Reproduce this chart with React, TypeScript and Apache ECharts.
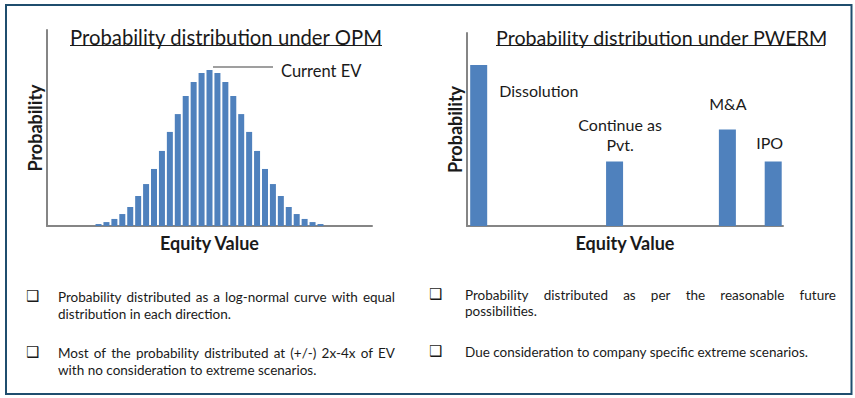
import React, { useEffect, useRef } from "react";
import * as echarts from "echarts";

// ---------- data ----------
// OPM: relative probability for each equity-value bin (log-normal shaped)
const opmProbability = [
  0.1, 0.2, 0.36, 0.61, 0.97, 1.53, 2.14, 2.91, 3.83, 4.8, 5.71, 6.63, 7.35, 7.81, 7.96,
  7.81, 7.35, 6.63, 5.71, 4.8, 3.83, 2.91, 2.14, 1.53, 0.97, 0.61, 0.36, 0.2, 0.1,
];
const opmEmptyBinsBefore = 6;
const opmEmptyBinsAfter = 6;
const opmAxisMax = 10;

// PWERM: discrete scenarios
const pwermScenarios = ["Dissolution", "Continue as\nPvt.", "M&A", "IPO"];
const pwermEquityValue = [3.7, 46.7, 82.4, 96.9];
const pwermProbability = [41.7, 16.7, 25, 16.7];
const pwermAxisMax = 50;

// texts
const titles = ["Probability distribution under OPM", "Probability distribution under PWERM"];
const axisNames = { x: "Equity Value", y: "Probability" };
const currentEvLabel = "Current EV";
const bulletsLeft = [
  ["Probability distributed as a log-normal curve with equal", "distribution in each direction."],
  ["Most of the probability distributed at (+/-) 2x-4x of EV", "with no consideration to extreme scenarios."],
];
const bulletsRight = [
  ["Probability distributed as per the reasonable future", "possibilities."],
  ["Due consideration to company specific extreme scenarios."],
];

const FONT = "Lato, 'Open Sans', sans-serif";
const BAR = "#4f81bd";
const AXIS = "#858585";
const TEXT = "#1a1a1a";

function measure(text: string, size: number): number {
  const c = document.createElement("canvas").getContext("2d")!;
  c.font = `${size}px Lato`;
  return c.measureText(text).width;
}

function lineElements(text: string, x: number, y: number, size: number, justifyTo?: number): any[] {
  if (!justifyTo) {
    return [{ type: "text", x, y, style: { text, fill: TEXT, font: `${size}px ${FONT}`, verticalAlign: "middle" } }];
  }
  const words = text.split(" ");
  const widths = words.map((w) => measure(w, size));
  const total = widths.reduce((a, b) => a + b, 0);
  const gap = (justifyTo - total) / (words.length - 1);
  const out: any[] = [];
  let cx = x;
  words.forEach((w, i) => {
    out.push({ type: "text", x: cx, y, style: { text: w, fill: TEXT, font: `${size}px ${FONT}`, verticalAlign: "middle" } });
    cx += widths[i] + gap;
  });
  return out;
}

export default function App() {
  const ref = useRef<HTMLDivElement>(null);
  useEffect(() => {
    document.body.style.margin = "0";
    const chart = echarts.init(ref.current!, null, { renderer: "svg" });

    const opmData = [
      ...new Array(opmEmptyBinsBefore).fill(null),
      ...opmProbability,
      ...new Array(opmEmptyBinsAfter).fill(null),
    ];
    const opmCats = opmData.map((_, i) => String(i));

    const bulletSize = 13.5;
    const graphics: any[] = [];
    // border
    graphics.push({
      type: "rect",
      shape: { x: 6, y: 5, width: 845.5, height: 389 },
      style: { fill: "none", stroke: "#1f4e6e", lineWidth: 2 },
      silent: true,
    });
    // titles with underline
    graphics.push({ type: "text", x: 70, y: 37, style: { text: titles[0], fill: TEXT, font: `20.3px ${FONT}`, verticalAlign: "middle" } });
    graphics.push({ type: "line", shape: { x1: 70, y1: 45.5, x2: 382, y2: 45.5 }, style: { stroke: TEXT, lineWidth: 1 } });
    graphics.push({ type: "text", x: 496, y: 37, style: { text: titles[1], fill: TEXT, font: `19.7px ${FONT}`, verticalAlign: "middle" } });
    graphics.push({ type: "line", shape: { x1: 496, y1: 45.5, x2: 825, y2: 45.5 }, style: { stroke: TEXT, lineWidth: 1 } });
    // current EV annotation
    graphics.push({ type: "line", shape: { x1: 213, y1: 67, x2: 273, y2: 67 }, style: { stroke: "#7f7f7f", lineWidth: 1.5 } });
    graphics.push({ type: "text", x: 281, y: 71, style: { text: currentEvLabel, fill: TEXT, font: `16.5px ${FONT}`, verticalAlign: "middle" } });

    // bullets
    const addBullets = (list: string[][], boxX: number, textX: number, ys: number[][], right: number) => {
      list.forEach((lines, bi) => {
        graphics.push({ type: "text", x: boxX, y: ys[bi][0] - 1, style: { text: "\u2751", fill: TEXT, font: `15px 'DejaVu Sans'`, verticalAlign: "middle" } });
        lines.forEach((ln, li) => {
          const justify = li < lines.length - 1 ? right - textX : undefined;
          graphics.push(...lineElements(ln, textX, ys[bi][li], bulletSize, justify));
        });
      });
    };
    addBullets(bulletsLeft, 26, 58, [[297, 314], [353, 370]], 395);
    addBullets(bulletsRight, 429, 465, [[295, 311], [352]], 836);

    const labelFont = { fontFamily: FONT, fontSize: 16, color: TEXT };
    const pwermLabelPos: [number, number][] = [[29, 25], [14, -27], [9, -26], [5, -19]];
    const pwermLabelAlign = ["left", "center", "center", "center"];
    const nameStyle = { fontFamily: FONT, fontSize: 18, fontWeight: "bold", color: TEXT };

    chart.setOption({
      animation: false,
      backgroundColor: "#ffffff",
      grid: [
        { left: 47, top: 30, width: 325, height: 196 },
        { left: 467, top: 33, width: 316, height: 193 },
      ],
      xAxis: [
        {
          gridIndex: 0,
          type: "category",
          data: opmCats,
          axisLine: { lineStyle: { color: AXIS, width: 2 } },
          axisTick: { show: false },
          axisLabel: { show: false },
          name: axisNames.x,
          nameLocation: "middle",
          nameGap: 8,
          nameTextStyle: nameStyle,
        },
        {
          gridIndex: 1,
          type: "value",
          min: 0,
          max: 100,
          axisLine: { show: true, lineStyle: { color: AXIS, width: 2 } },
          axisTick: { show: false },
          axisLabel: { show: false },
          splitLine: { show: false },
          name: axisNames.x,
          nameLocation: "middle",
          nameGap: 8,
          nameTextStyle: nameStyle,
        },
      ],
      yAxis: [
        {
          gridIndex: 0,
          type: "value",
          min: 0,
          max: opmAxisMax,
          axisLine: { show: true, lineStyle: { color: AXIS, width: 2 } },
          axisTick: { show: false },
          axisLabel: { show: false },
          splitLine: { show: false },
          name: axisNames.y,
          nameLocation: "middle",
          nameRotate: 90,
          nameGap: 3,
          nameTextStyle: nameStyle,
        },
        {
          gridIndex: 1,
          type: "value",
          min: 0,
          max: pwermAxisMax,
          axisLine: { show: true, lineStyle: { color: AXIS, width: 2 } },
          axisTick: { show: false },
          axisLabel: { show: false },
          splitLine: { show: false },
          name: axisNames.y,
          nameLocation: "middle",
          nameRotate: 90,
          nameGap: 3,
          nameTextStyle: nameStyle,
        },
      ],
      series: [
        {
          type: "bar",
          xAxisIndex: 0,
          yAxisIndex: 0,
          data: opmData,
          barWidth: 6,
          itemStyle: { color: BAR },
        },
        {
          type: "bar",
          xAxisIndex: 1,
          yAxisIndex: 1,
          barWidth: 17,
          itemStyle: { color: BAR },
          data: pwermScenarios.map((name, i) => ({
            name,
            value: [pwermEquityValue[i], pwermProbability[i]],
            label: {
              show: true,
              formatter: name,
              position: pwermLabelPos[i],
              align: pwermLabelAlign[i],
              verticalAlign: "middle",
              lineHeight: 20,
              ...labelFont,
            },
          })),
        },
      ],
      graphic: graphics,
    });
    return () => chart.dispose();
  }, []);
  return <div ref={ref} style={{ width: 855, height: 398, background: "#fff" }} />;
}
